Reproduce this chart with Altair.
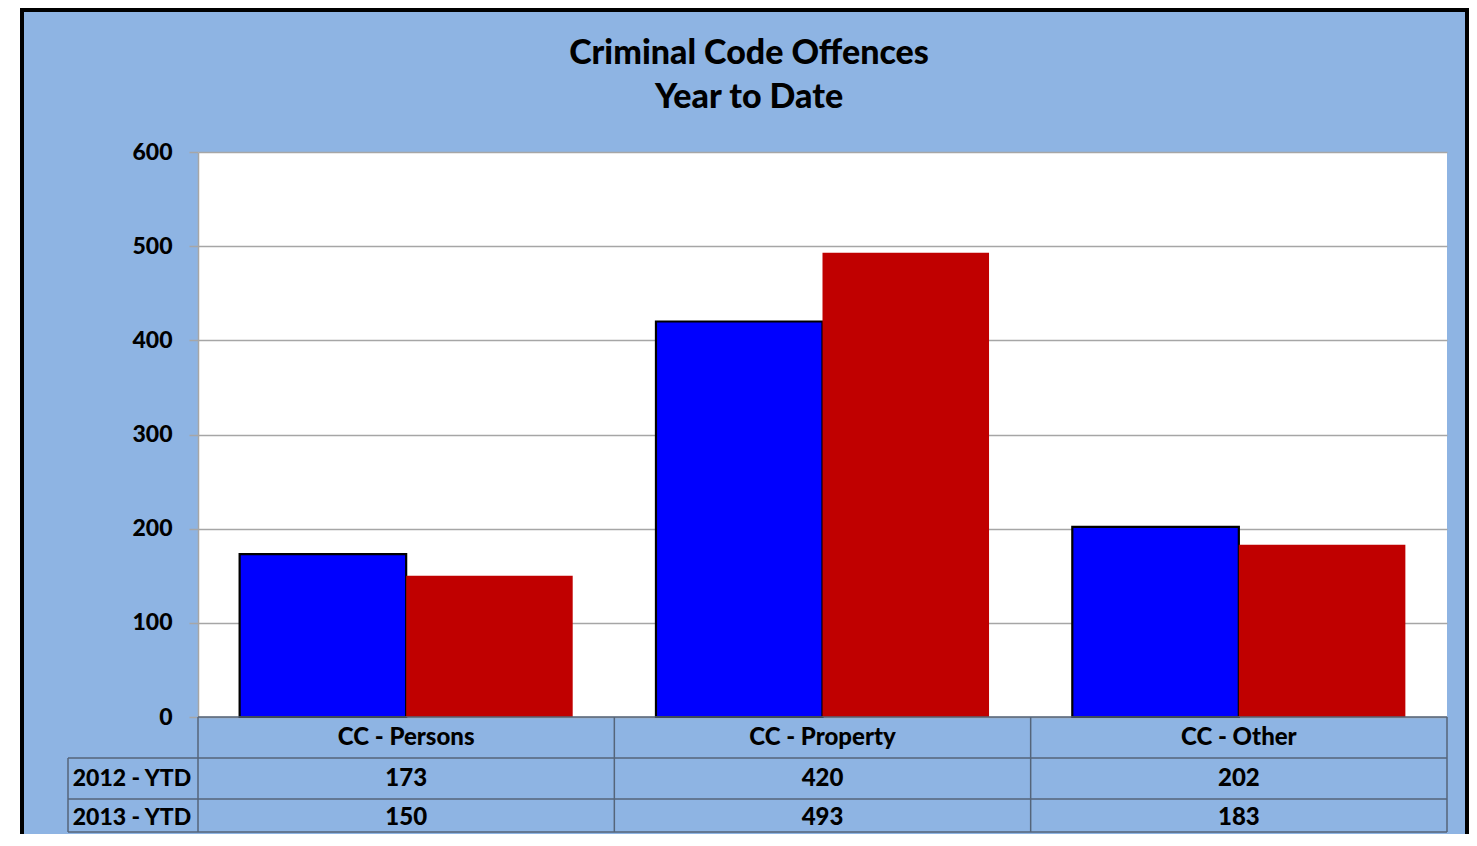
import altair as alt
import pandas as pd

# ---------------- data ----------------
categories = ["CC - Persons", "CC - Property", "CC - Other"]
series = ["2012 - YTD", "2013 - YTD"]
values_2012 = [173, 420, 202]
values_2013 = [150, 493, 183]
y_ticks = [0, 100, 200, 300, 400, 500, 600]
title_lines = ["Criminal Code Offences", "Year to Date"]

# ---------------- styles ----------------
BG = "#8EB4E3"
FONT = "Lato"
WEIGHT = 900
BLUE = "#0000FF"
RED = "#C00000"
GRID = "#A6A6A6"
TABLE_LINE = "#55657A"
W, H = 1249, 565
PAD = {"left": 190, "top": 144, "right": 22, "bottom": 117}
BOTTOM = H + PAD["bottom"] - 2  # last visible table line (plot-relative)
ROW1, ROW2 = H + 41, H + 82

rows = []
for c, a, b in zip(categories, values_2012, values_2013):
    rows.append({"category": c, "series": series[0], "value": a})
    rows.append({"category": c, "series": series[1], "value": b})
df = pd.DataFrame(rows)
one = pd.DataFrame({"k": [0]})

x_enc = alt.X(
    "category:N",
    sort=categories,
    scale=alt.Scale(domain=categories, paddingInner=0.2, paddingOuter=0.1),
    axis=None,
)

bars = (
    alt.Chart(df)
    .mark_bar(strokeWidth=2.2)
    .encode(
        x=x_enc,
        xOffset=alt.XOffset("series:N", sort=series,
                            scale=alt.Scale(domain=series, paddingInner=0, paddingOuter=0)),
        y=alt.Y(
            "value:Q",
            scale=alt.Scale(domain=[0, 600], nice=False),
            axis=alt.Axis(
                values=y_ticks, grid=True, gridColor=GRID, gridWidth=1.5,
                domainColor=GRID, domainWidth=1.5, tickColor=GRID, tickWidth=1.5,
                tickSize=9, labelFont=FONT, labelFontSize=23, labelFontWeight=WEIGHT,
                labelColor="black", labelPadding=17, title=None,
            ),
        ),
        fill=alt.Fill("series:N", scale=alt.Scale(domain=series, range=[BLUE, RED]), legend=None),
        stroke=alt.Stroke("series:N", scale=alt.Scale(domain=series, range=["black", "transparent"]), legend=None),
    )
)

layers = [bars]

def rule(x1, x2, y1, y2, color=TABLE_LINE, width=1.5):
    return alt.Chart(one).mark_rule(color=color, strokeWidth=width).encode(
        x=alt.value(x1), x2=alt.value(x2), y=alt.value(y1), y2=alt.value(y2)
    )

# white strip left of the frame
layers.append(
    alt.Chart(one).mark_rect(color="white").encode(
        x=alt.value(-PAD["left"]), x2=alt.value(-178),
        y=alt.value(-PAD["top"]), y2=alt.value(H + PAD["bottom"]),
    )
)

# data table grid
layers.append(rule(0, W, H, H))
for yy in (ROW1, ROW2, BOTTOM):
    layers.append(rule(-130, W, yy, yy))
for xx in (0, W / 3, 2 * W / 3, W):
    layers.append(rule(xx, xx, H, BOTTOM))
layers.append(rule(-130, -130, ROW1, BOTTOM))

# outer black frame
layers.append(rule(-176, -176, -PAD["top"], H + PAD["bottom"], "black", 4))
layers.append(rule(-178, W + PAD["right"], -142, -142, "black", 4))
layers.append(rule(W + PAD["right"] - 2, W + PAD["right"] - 2, -PAD["top"], H + PAD["bottom"], "black", 4))

txt = dict(font=FONT, fontSize=24, fontWeight=WEIGHT, color="black")

# category header row
layers.append(
    alt.Chart(pd.DataFrame({"category": categories}))
    .mark_text(baseline="middle", **txt)
    .encode(x=x_enc, y=alt.value(H + 21), text="category:N")
)

# value rows + row labels
for s, yy in zip(series, (ROW1 + 21, ROW2 + 19)):
    layers.append(
        alt.Chart(df[df["series"] == s])
        .mark_text(baseline="middle", **txt)
        .encode(x=x_enc, y=alt.value(yy), text="value:Q")
    )
    layers.append(
        alt.Chart(pd.DataFrame({"series": [s]}))
        .mark_text(baseline="middle", align="center", font=FONT, fontSize=23,
                   fontWeight=WEIGHT, color="black")
        .encode(x=alt.value(-66), y=alt.value(yy), text="series:N")
    )

# title
for line, yy in zip(title_lines, (-88, -44)):
    layers.append(
        alt.Chart(pd.DataFrame({"t": [line]}))
        .mark_text(baseline="alphabetic", align="center", font=FONT, fontSize=34,
                   fontWeight=WEIGHT, color="black")
        .encode(x=alt.value(551), y=alt.value(yy), text="t:N")
    )

chart = (
    alt.layer(*layers)
    .properties(
        width=W, height=H, padding=PAD,
        autosize=alt.AutoSizeParams(type="none"),
        background=BG,
    )
    .configure_view(fill="white", stroke=None)
)

chart.save("out.html", embed_options={"renderer": "svg", "actions": False})
